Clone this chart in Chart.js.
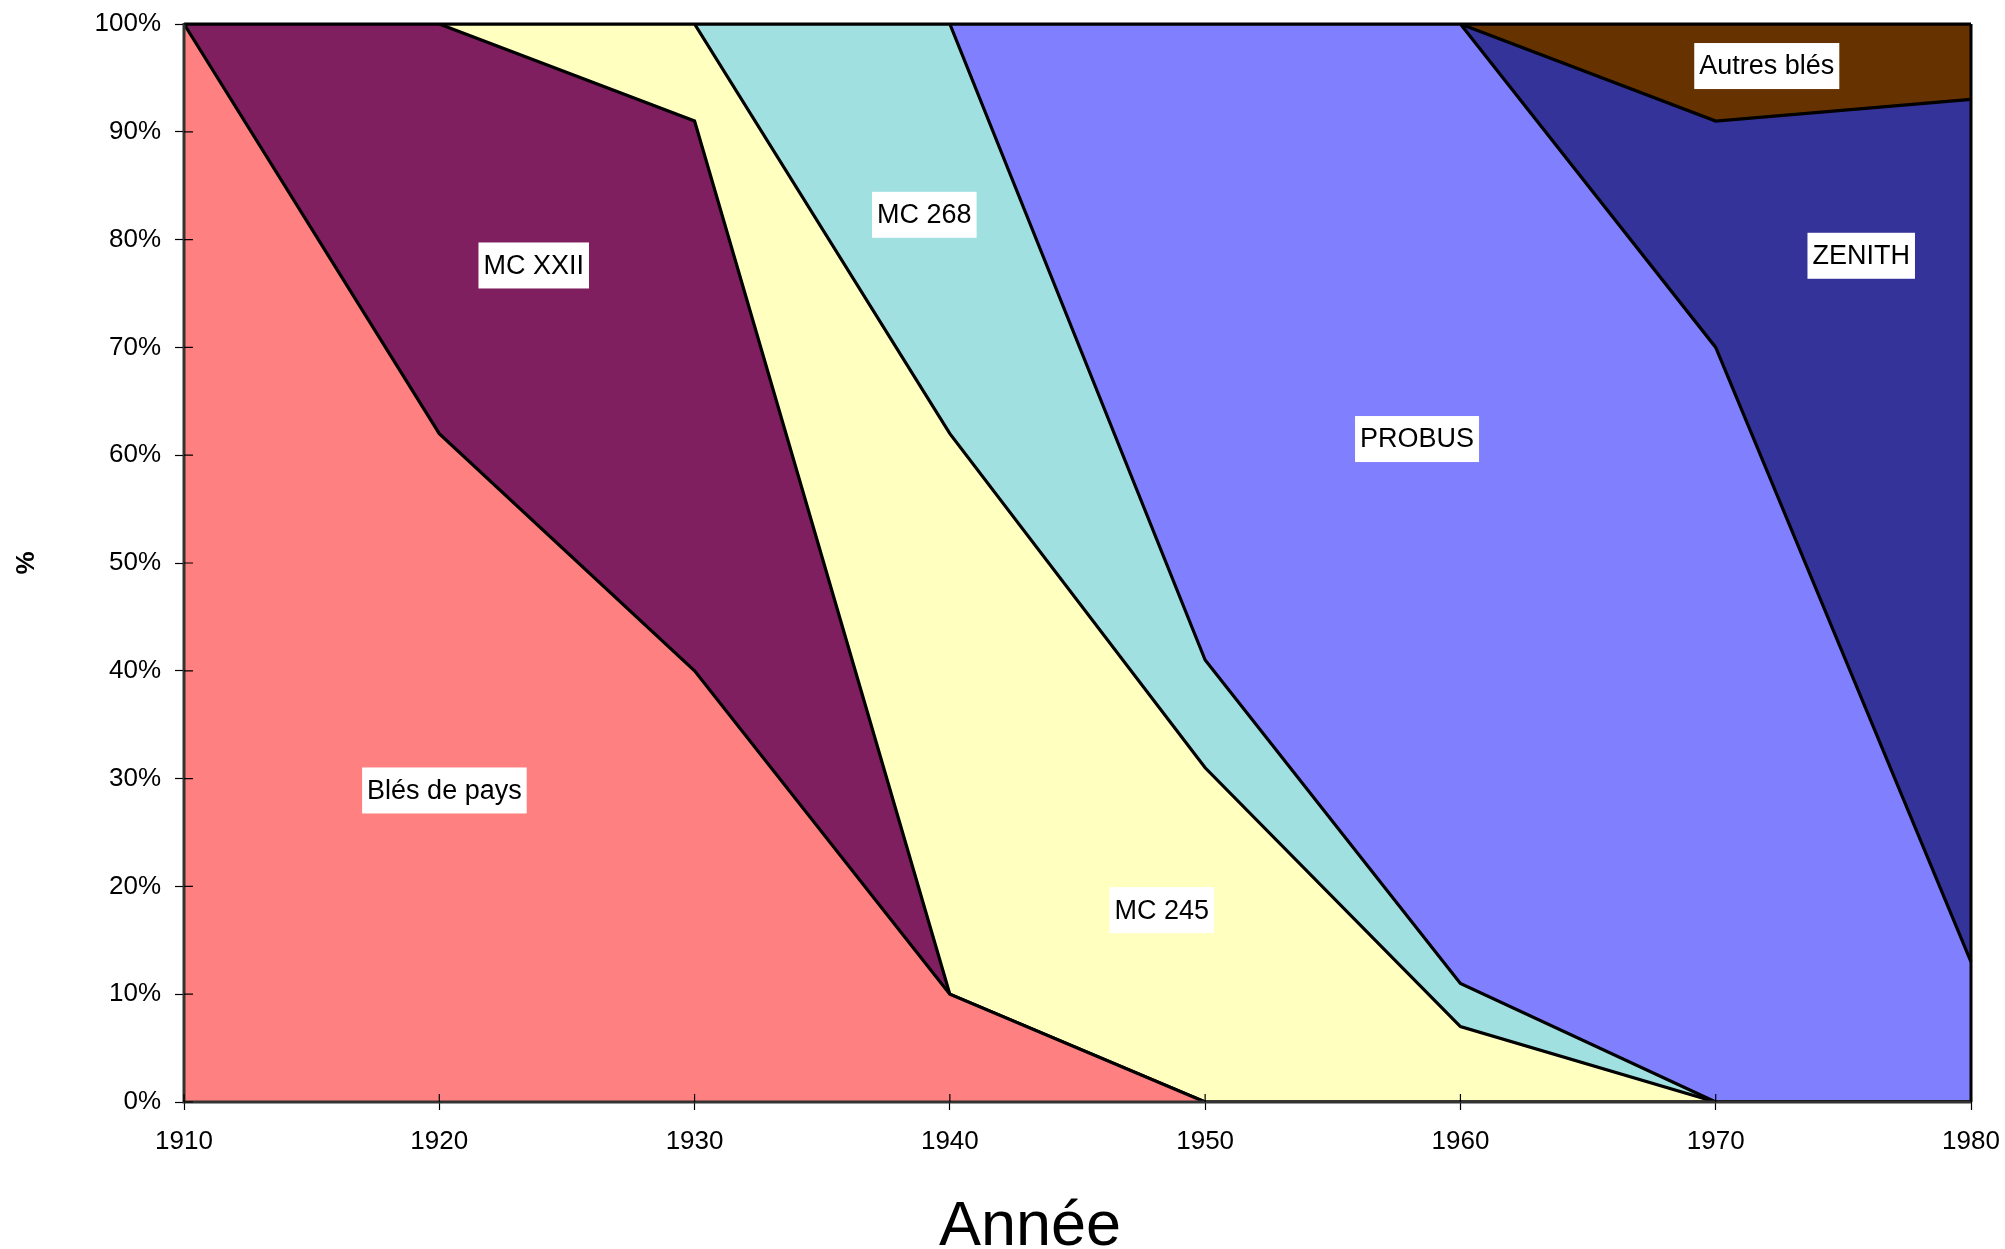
<!DOCTYPE html>
<html>
<head>
<meta charset="utf-8">
<script src="https://cdn.jsdelivr.net/npm/chart.js@4"></script>
<style>
html,body{margin:0;padding:0;background:#fff;}
#wrap{width:2005px;height:1249px;position:relative;}
</style>
</head>
<body>
<div id="wrap"><canvas id="c" width="2005" height="1249"></canvas></div>
<script>
// ---- data ----
const years = ['1910','1920','1930','1940','1950','1960','1970','1980'];
const blesDePays = [100, 62, 40, 10, 0, 0, 0, 0];
const mcXXII     = [0, 38, 51, 0, 0, 0, 0, 0];
const mc245      = [0, 0, 9, 52, 31, 7, 0, 0];
const mc268      = [0, 0, 0, 38, 10, 4, 0, 0];
const probus     = [0, 0, 0, 0, 59, 89, 70, 13];
const zenith     = [0, 0, 0, 0, 0, 0, 21, 80];
const autresBles = [0, 0, 0, 0, 0, 0, 9, 7];
const seriesNames = ['Blés de pays','MC XXII','MC 245','MC 268','PROBUS','ZENITH','Autres blés'];
const yTicks = [0,10,20,30,40,50,60,70,80,90,100];
// label anchor positions (year, %) for in-chart series names
const labelYears = [1920.2, 1923.7, 1948.3, 1939.0, 1958.3, 1975.7, 1972.0];
const labelPcts  = [28.9, 77.6, 17.8, 82.3, 61.5, 78.5, 96.1];

const colors = ['#FF8080','#801F5F','#FFFFC0','#A0E0E0','#8080FF','#333399','#663300'];
const seriesData = [blesDePays, mcXXII, mc245, mc268, probus, zenith, autresBles];

const FONT = "'Liberation Sans', Arial, sans-serif";

const datasets = seriesData.map((d, i) => ({
  label: seriesNames[i],
  data: d,
  backgroundColor: colors[i],
  borderColor: '#000',
  borderWidth: 3.2,
  pointRadius: 0,
  tension: 0,
  fill: i === 0 ? 'origin' : '-1'
}));

const overlay = {
  id: 'overlay',
  afterDatasetsDraw(chart) {
    const ctx = chart.ctx;
    const a = chart.chartArea;
    const xs = chart.scales.x, ys = chart.scales.y;
    ctx.save();
    // plot frame
    ctx.strokeStyle = '#000';
    ctx.lineWidth = 3;
    ctx.beginPath();
    ctx.moveTo(a.left, a.top); ctx.lineTo(a.right, a.top);
    ctx.moveTo(a.right, a.top); ctx.lineTo(a.right, a.bottom);
    ctx.stroke();
    ctx.strokeStyle = '#333';
    ctx.lineWidth = 3;
    ctx.beginPath();
    ctx.moveTo(a.left, a.top - 1); ctx.lineTo(a.left, a.bottom);
    ctx.lineTo(a.right, a.bottom);
    ctx.stroke();
    // inner tick parts
    ctx.strokeStyle = '#000';
    ctx.lineWidth = 1.2;
    ctx.beginPath();
    yTicks.forEach(v => { const p = ys.getPixelForValue(v); ctx.moveTo(a.left, p); ctx.lineTo(a.left + 9, p); });
    years.forEach((y, i) => { const p = xs.getPixelForValue(i); ctx.moveTo(p, a.bottom); ctx.lineTo(p, a.bottom - 8); });
    ctx.stroke();
    // series labels in white boxes
    ctx.font = '27px ' + FONT;
    ctx.textAlign = 'center';
    ctx.textBaseline = 'middle';
    seriesNames.forEach((name, i) => {
      const idx = (labelYears[i] - 1910) / 10;
      const px = xs.getPixelForValue(idx);
      const py = ys.getPixelForValue(labelPcts[i]);
      const w = ctx.measureText(name).width + 10;
      const h = 46;
      ctx.fillStyle = '#fff';
      ctx.fillRect(px - w / 2, py - h / 2, w, h);
      ctx.fillStyle = '#000';
      ctx.fillText(name, px, py + 1);
    });
    // axis titles
    ctx.font = '63px ' + FONT;
    ctx.textAlign = 'center';
    ctx.textBaseline = 'alphabetic';
    ctx.fillText('Année', 1030, 1245);
    ctx.save();
    ctx.translate(27, (a.top + a.bottom) / 2);
    ctx.rotate(-Math.PI / 2);
    ctx.font = 'bold 26px ' + FONT;
    ctx.textBaseline = 'middle';
    ctx.fillText('%', 0, 0);
    ctx.restore();
    ctx.restore();
  }
};

new Chart(document.getElementById('c'), {
  type: 'line',
  data: { labels: years, datasets },
  options: {
    responsive: false,
    animation: false,
    devicePixelRatio: 1,
    layout: { padding: { top: 24, right: 34, left: 0, bottom: 0 } },
    plugins: { legend: { display: false }, tooltip: { enabled: false } },
    scales: {
      x: {
        type: 'category',
        offset: false,
        grid: { drawOnChartArea: false, drawTicks: true, tickLength: 8, tickColor: '#000', tickWidth: 1.2 },
        border: { display: false },
        ticks: { color: '#000', font: { family: FONT, size: 26 }, padding: 16, maxRotation: 0, autoSkip: false },
        afterFit(s) { s.height = 147; s.paddingLeft = 0; s.paddingRight = 0; }
      },
      y: {
        stacked: true,
        min: 0, max: 100,
        grid: { drawOnChartArea: false, drawTicks: true, tickLength: 9, tickColor: '#000', tickWidth: 1.2 },
        border: { display: false },
        ticks: { stepSize: 10, color: '#000', font: { family: FONT, size: 26 }, padding: 14,
                 callback: v => v + '%' },
        afterFit(s) { s.width = 184; s.paddingTop = 0; s.paddingBottom = 0; }
      }
    }
  },
  plugins: [overlay]
});
</script>
</body>
</html>
